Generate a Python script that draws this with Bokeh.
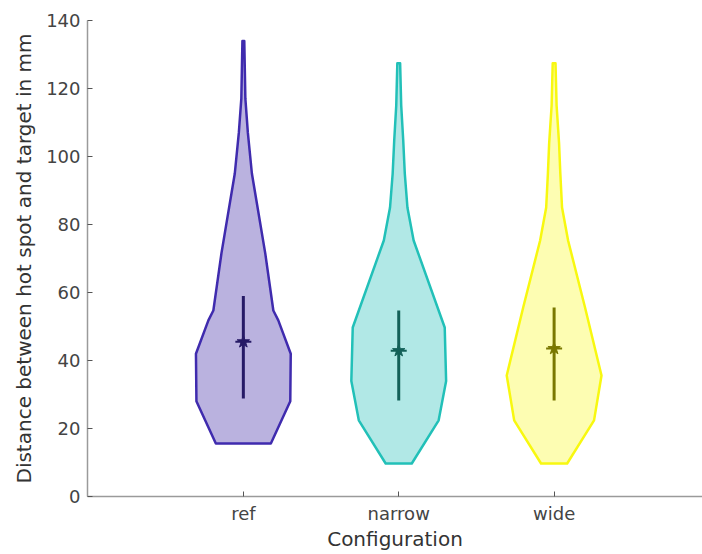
from bokeh.plotting import figure
from bokeh.models import Range1d, FixedTicker
from bokeh.embed import file_html
from bokeh.resources import INLINE

categories = ["ref", "narrow", "wide"]
positions = [1, 2, 3]

# violin profiles: value levels and half widths (category units)
ref_levels = [15.6, 28, 42, 51.8, 54.7, 71.5, 95, 107, 117, 134]
ref_half = [0.177, 0.302, 0.305, 0.225, 0.193, 0.141, 0.055, 0.029, 0.013, 0.006]
narrow_levels = [9.7, 22.4, 34, 49.7, 75.3, 85, 95, 104.7, 115, 127.4]
narrow_half = [0.084, 0.257, 0.305, 0.296, 0.096, 0.056, 0.039, 0.029, 0.016, 0.009]
wide_levels = [9.7, 22.4, 35.6, 55.6, 75.3, 85, 95, 103.8, 115, 127.4]
wide_half = [0.084, 0.257, 0.305, 0.199, 0.090, 0.051, 0.040, 0.032, 0.016, 0.009]

means = [45.5, 42.9, 43.5]
lower = [28.8, 28.2, 28.2]
upper = [59.0, 54.7, 55.6]

edge_colors = ["#3f2bae", "#22c0b8", "#f8f810"]
fill_colors = ["#bab2df", "#b1e8e6", "#fdfdb2"]
dark_colors = ["#261a66", "#136058", "#7a7800"]

yticks = [0, 20, 40, 60, 80, 100, 120, 140]

p = figure(width=702, height=554, output_backend="svg", toolbar_location=None,
           x_range=Range1d(-0.003, 3.955), y_range=Range1d(0, 140),
           min_border_left=87, min_border_right=0, min_border_top=20, min_border_bottom=58)
p.outline_line_color = None
p.xgrid.visible = False
p.ygrid.visible = False
p.background_fill_color = "white"

profiles = [(ref_levels, ref_half), (narrow_levels, narrow_half), (wide_levels, wide_half)]
for i, (lv, hw) in enumerate(profiles):
    c = positions[i]
    xs = [c + h for h in hw] + [c - h for h in reversed(hw)]
    ys = list(lv) + list(reversed(lv))
    p.patch(xs, ys, fill_color=fill_colors[i], fill_alpha=1.0,
            line_color=edge_colors[i], line_width=2.5, line_join="round")
    p.segment(x0=[c], y0=[lower[i]], x1=[c], y1=[upper[i]],
              line_color=dark_colors[i], line_width=3)
    p.scatter([c], [means[i]], marker="star", size=13,
              fill_color=dark_colors[i], line_color=dark_colors[i])
    p.scatter([c], [means[i]], marker="dash", size=16,
              line_color=dark_colors[i], line_width=2)

p.xaxis.ticker = FixedTicker(ticks=positions)
p.xaxis.major_label_overrides = {k: v for k, v in zip(positions, categories)}
p.yaxis.ticker = FixedTicker(ticks=yticks)
p.xaxis.axis_label = "Configuration"
p.yaxis.axis_label = "Distance between hot spot and target in mm"

for ax in (p.xaxis[0], p.yaxis[0]):
    ax.axis_line_color = "#9a9a9a"
    ax.axis_line_width = 1.5
    ax.major_tick_line_color = "#555555"
    ax.major_tick_in = 5
    ax.major_tick_out = 0
    ax.minor_tick_line_color = None
    ax.major_label_text_font = "DejaVu Sans"
    ax.major_label_text_font_size = "18px"
    ax.major_label_text_color = "#444444"
    ax.axis_label_text_font = "DejaVu Sans"
    ax.axis_label_text_font_size = "20px"
    ax.axis_label_text_font_style = "normal"
    ax.axis_label_text_color = "#333333"

p.xaxis.major_label_standoff = 6
p.xaxis.axis_label_standoff = 0
p.yaxis.major_label_standoff = 7
p.yaxis.axis_label_standoff = 7

open("out.html", "w").write(file_html(p, INLINE))
